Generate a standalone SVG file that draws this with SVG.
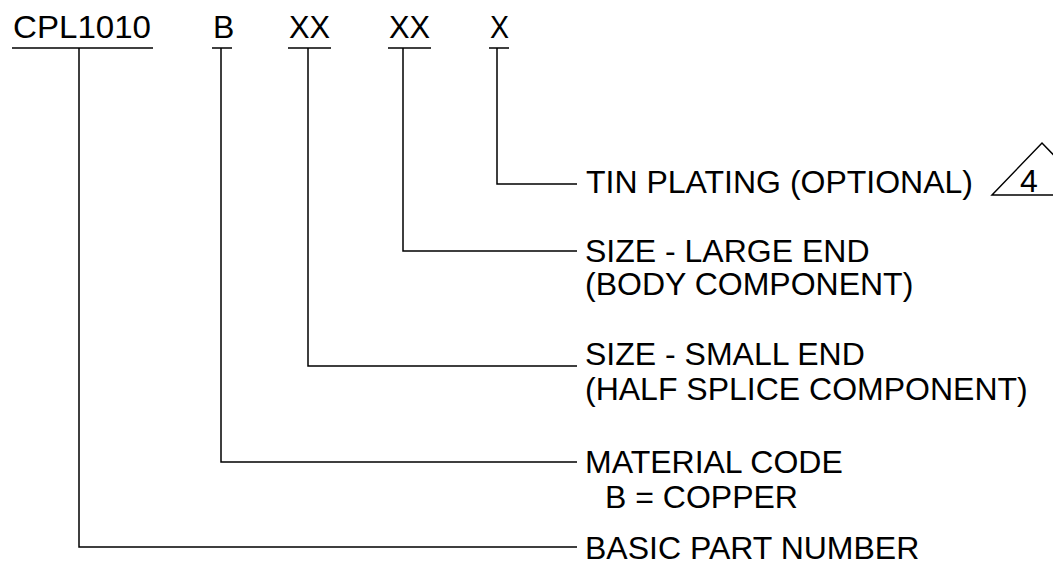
<svg xmlns="http://www.w3.org/2000/svg" width="1053" height="579" viewBox="0 0 1053 579">
<style>
text { font-family: "Liberation Sans", Arial, sans-serif; font-size: 32px; fill: #000; }
.ln { stroke: #000; stroke-width: 1.5; fill: none; }
</style>
<rect width="1053" height="579" fill="#fff"/>
<g id="code">
  <g id="seg-cpl"><text x="13" y="38" textLength="138" lengthAdjust="spacingAndGlyphs">CPL1010</text><line class="ln" x1="12" y1="48" x2="153" y2="48"/></g>
  <g id="seg-b"><text x="213" y="38">B</text><line class="ln" x1="212" y1="48" x2="232" y2="48"/></g>
  <g id="seg-xx1"><text x="289" y="38" textLength="41" lengthAdjust="spacingAndGlyphs">XX</text><line class="ln" x1="288" y1="48" x2="331" y2="48"/></g>
  <g id="seg-xx2"><text x="389" y="38" textLength="41" lengthAdjust="spacingAndGlyphs">XX</text><line class="ln" x1="388" y1="48" x2="431" y2="48"/></g>
  <g id="seg-x"><text x="490" y="38" textLength="19" lengthAdjust="spacingAndGlyphs">X</text><line class="ln" x1="489" y1="48" x2="509" y2="48"/></g>
</g>
<g id="connectors">
  <polyline class="ln" points="497,48 497,184 577,184"/>
  <polyline class="ln" points="403,48 403,251 577,251"/>
  <polyline class="ln" points="308,48 308,366 577,366"/>
  <polyline class="ln" points="221,48 221,462 577,462"/>
  <polyline class="ln" points="79,48 79,547 577,547"/>
</g>
<g id="label-tin">
  <text x="586" y="193">TIN PLATING (OPTIONAL)</text>
  <polygon class="ln" points="992,195 1042,143 1092,195"/>
  <text x="1029" y="192" text-anchor="middle">4</text>
</g>
<g id="label-large">
  <text x="585" y="262">SIZE - LARGE END</text>
  <text x="585" y="295">(BODY COMPONENT)</text>
</g>
<g id="label-small">
  <text x="585" y="365">SIZE - SMALL END</text>
  <text x="585" y="400">(HALF SPLICE COMPONENT)</text>
</g>
<g id="label-material">
  <text x="585" y="473">MATERIAL CODE</text>
  <text x="605" y="508">B = COPPER</text>
</g>
<g id="label-basic">
  <text x="585" y="559">BASIC PART NUMBER</text>
</g>
</svg>
